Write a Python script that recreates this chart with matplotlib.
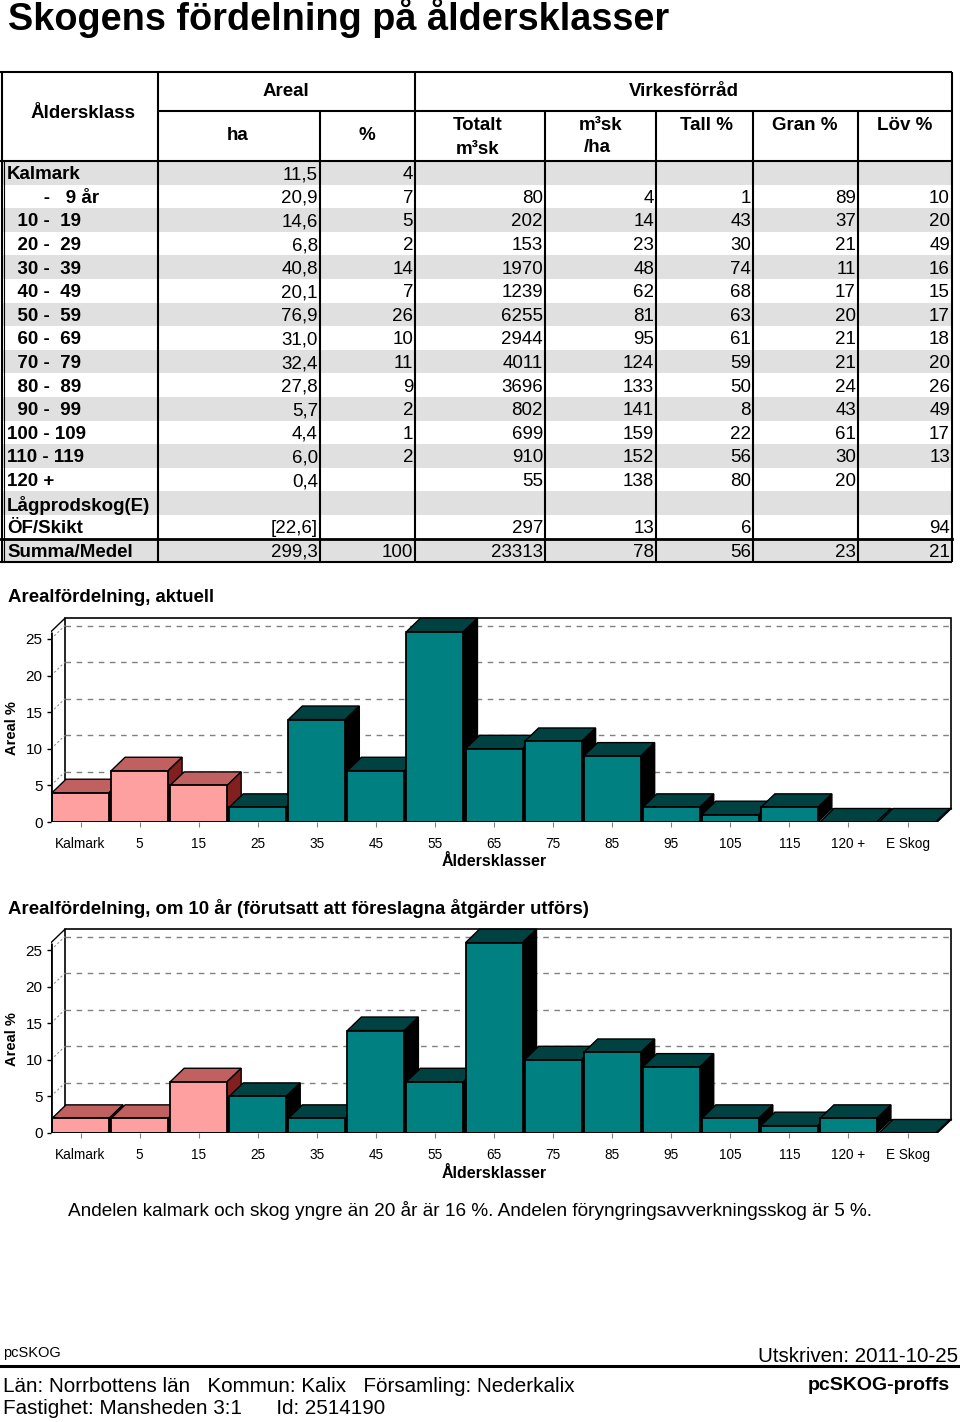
import matplotlib
matplotlib.use("Agg")
import matplotlib.pyplot as plt
from matplotlib.patches import Polygon, Rectangle
import numpy as np

plt.rcParams["font.family"] = ["Liberation Sans", "DejaVu Sans"]

# ---- table data ----
klass_labels = ["Kalmark", "       -   9 år", "  10 -  19", "  20 -  29", "  30 -  39", "  40 -  49",
                "  50 -  59", "  60 -  69", "  70 -  79", "  80 -  89", "  90 -  99", "100 - 109",
                "110 - 119", "120 +", "Lågprodskog(E)", "ÖF/Skikt", "Summa/Medel"]
ha = ["11,5", "20,9", "14,6", "6,8", "40,8", "20,1", "76,9", "31,0", "32,4", "27,8", "5,7", "4,4",
      "6,0", "0,4", "", "[22,6]", "299,3"]
pct = ["4", "7", "5", "2", "14", "7", "26", "10", "11", "9", "2", "1", "2", "", "", "", "100"]
totalt = ["", "80", "202", "153", "1970", "1239", "6255", "2944", "4011", "3696", "802", "699",
          "910", "55", "", "297", "23313"]
per_ha = ["", "4", "14", "23", "48", "62", "81", "95", "124", "133", "141", "159", "152", "138",
          "", "13", "78"]
tall = ["", "1", "43", "30", "74", "68", "63", "61", "59", "50", "8", "22", "56", "80", "", "6", "56"]
gran = ["", "89", "37", "21", "11", "17", "20", "21", "21", "24", "43", "61", "30", "20", "", "", "23"]
lov = ["", "10", "20", "49", "16", "15", "17", "18", "20", "26", "49", "17", "13", "", "", "94", "21"]

# ---- chart data ----
chart_cats = ["Kalmark", "5", "15", "25", "35", "45", "55", "65", "75", "85", "95", "105", "115",
              "120 +", "E Skog"]
areal_now = [4, 7, 5, 2, 14, 7, 26, 10, 11, 9, 2, 1, 2, 0, 0]
areal_10y = [2, 2, 7, 5, 2, 14, 7, 26, 10, 11, 9, 2, 1, 2, 0]
n_young = 3  # Kalmark, 5, 15 -> pink

W, H = 960, 1422
fig = plt.figure(figsize=(W / 100, H / 100), dpi=100)
bg = fig.add_axes([0, 0, 1, 1])
bg.set_xlim(0, W)
bg.set_ylim(H, 0)
bg.axis("off")

bg.text(8, 30, "Skogens fördelning på åldersklasser", fontsize=27.3, fontweight="bold",
        va="baseline")

# ---- table ----
col_x = [158, 320, 415, 545, 656, 753, 858, 952]
row_top, row_h = 161, 23.6
n_rows = len(klass_labels)
tab_bottom = row_top + n_rows * row_h
fs = 13.5

for i in range(n_rows):
    if i % 2 == 0:
        bg.add_patch(Rectangle((3, row_top + i * row_h), 949, row_h, color="#e0e0e0", lw=0))

lk = dict(color="black", lw=1.5, solid_capstyle="butt")
bg.plot([0, 952], [72, 72], **lk)
bg.plot([158, 952], [110.5, 110.5], **lk)
bg.plot([0, 952], [160.5, 160.5], **lk)
bg.plot([0, 952], [row_top + 16 * row_h, row_top + 16 * row_h], color="black", lw=2)
bg.plot([0, 952], [tab_bottom, tab_bottom], **lk)
bg.plot([1.5, 1.5], [72, tab_bottom], **lk)
bg.plot([4, 4], [160.5, tab_bottom], color="black", lw=0.8)
for x in col_x:
    top = 72 if x in (158, 415, 952) else 110.5
    bg.plot([x, x], [top, tab_bottom], **lk)

hb = dict(fontsize=fs, fontweight="bold", ha="center", va="center")
bg.text(83, 113, "Åldersklass", **hb)
bg.text(286, 91, "Areal", **hb)
bg.text(684, 91, "Virkesförråd", **hb)
bg.text(238, 136, "ha", **hb)
bg.text(367, 136, "%", **hb)
bg.text(478, 126, "Totalt", **hb)
bg.text(478, 149, "m³sk", **hb)
bg.text(579, 125, "m³sk", fontsize=fs, fontweight="bold", ha="left", va="center")
bg.text(584, 147, "/ha", fontsize=fs, fontweight="bold", ha="left", va="center")
bg.text(706, 126, "Tall %", **hb)
bg.text(805, 125, "Gran %", **hb)
bg.text(905, 126, "Löv %", **hb)

columns = [ha, pct, totalt, per_ha, tall, gran, lov]
for i in range(n_rows):
    yc = row_top + (i + 0.5) * row_h + 2
    bg.text(7, yc, klass_labels[i], fontsize=fs, fontweight="bold", va="center", ha="left")
    for j, col in enumerate(columns):
        if col[i]:
            bg.text(col_x[j + 1] - 2, yc, col[i], fontsize=fs, va="center", ha="right")

# ---- 3D-looking bar charts ----
PX_CAT = 59.07   # pixels per category
PX_UNIT = 7.32   # pixels per percent
DEPTH_X, DEPTH_Y = 14, 13.5
pink = ("#ffa0a0", "#c06060", "#822020")
teal = ("#008080", "#004242", "#000000")


def bar_chart(baseline, title, values):
    ncat = len(values)
    ymax = 28
    width_px = ncat * PX_CAT + 17
    ax = fig.add_axes([51 / W, 1 - baseline / H, width_px / W, ymax * PX_UNIT / H])
    ax.set_xlim(-0.5, -0.5 + width_px / PX_CAT)
    ax.set_ylim(0, ymax)
    ax.patch.set_visible(False)
    for s in ax.spines.values():
        s.set_visible(False)
    dx, dy = DEPTH_X / PX_CAT, DEPTH_Y / PX_UNIT
    x0, x1, top = -0.5, ncat - 0.5, 26

    # back wall + grid
    ax.add_patch(Rectangle((x0 + dx, dy), ncat, top, facecolor="white", edgecolor="black",
                           lw=1.2, zorder=1))
    for v in range(5, 26, 5):
        ax.plot([x0 + dx, x1 + dx], [v + dy, v + dy], color="#808080", lw=1,
                dashes=(4, 4), zorder=1.5)
    for v in range(0, 26, 5):
        ax.plot([x0, x0 + dx], [v, v + dy], color="#909090", lw=0.8, dashes=(2, 2), zorder=1.5)
    ax.plot([x0, x0 + dx], [top, top + dy], color="black", lw=1, zorder=2)
    ax.plot([x1, x1 + dx], [0, dy], color="black", lw=1.2, zorder=2)

    xs = np.arange(ncat)
    bw = 0.965
    cols = [pink if i < n_young else teal for i in range(ncat)]
    bars = ax.bar(xs, values, width=bw, color=[c[0] for c in cols], edgecolor="black",
                  linewidth=1.3)
    for i, rect in enumerate(bars):
        h = values[i]
        l, r = xs[i] - bw / 2, xs[i] + bw / 2
        z = 3 + i * 0.1
        ax.add_patch(Polygon([(l, h), (l + dx, h + dy), (r + dx, h + dy), (r, h)],
                             facecolor=cols[i][1], edgecolor="black", lw=1, zorder=z))
        ax.add_patch(Polygon([(r, 0), (r, h), (r + dx, h + dy), (r + dx, dy)],
                             facecolor=cols[i][2], edgecolor="black", lw=1, zorder=z))
        rect.set_zorder(z + 0.05)

    ax.plot([x0, x0], [0, top], color="black", lw=2, zorder=10, solid_capstyle="butt")
    ax.plot([x0, x1], [0, 0], color="black", lw=2, zorder=10, solid_capstyle="butt")

    ax.set_yticks([0, 5, 10, 15, 20, 25])
    ax.tick_params(axis="y", length=3, width=1, pad=3, labelsize=11)
    ax.set_xticks(xs)
    ax.set_xticklabels(chart_cats)
    ax.tick_params(axis="x", length=3.5, width=0.8, color="#808080", pad=7, labelsize=9.8)

    bg.text(8, baseline - 224, title, fontsize=13.4, fontweight="bold", va="center")
    bg.text(12, baseline - 94, "Areal %", fontsize=10.5, fontweight="bold", rotation=90,
            ha="center", va="center")
    bg.text(494, baseline + 40, "Åldersklasser", fontsize=11.5, fontweight="bold",
            ha="center", va="center")


bar_chart(822, "Arealfördelning, aktuell", areal_now)
bar_chart(1133, "Arealfördelning, om 10 år (förutsatt att föreslagna åtgärder utförs)", areal_10y)

bg.text(68, 1211, "Andelen kalmark och skog yngre än 20 år är 16 %. "
        "Andelen föryngringsavverkningsskog är 5 %.", fontsize=13.7, va="center")

# ---- footer ----
bg.text(3, 1353, "pcSKOG", fontsize=10.5, va="center")
bg.text(958, 1357, "Utskriven: 2011-10-25", fontsize=14.8, ha="right", va="center")
bg.plot([0, 960], [1366, 1366], color="black", lw=2.2)
bg.text(3, 1386, "Län: Norrbottens län   Kommun: Kalix   Församling: Nederkalix", fontsize=14.9,
        va="center")
bg.text(950, 1386, "pcSKOG-proffs", fontsize=14, fontweight="bold", ha="right", va="center")
bg.text(3, 1409, "Fastighet: Mansheden 3:1      Id: 2514190", fontsize=14.9, va="center")

fig.savefig("out.png", dpi=100)
